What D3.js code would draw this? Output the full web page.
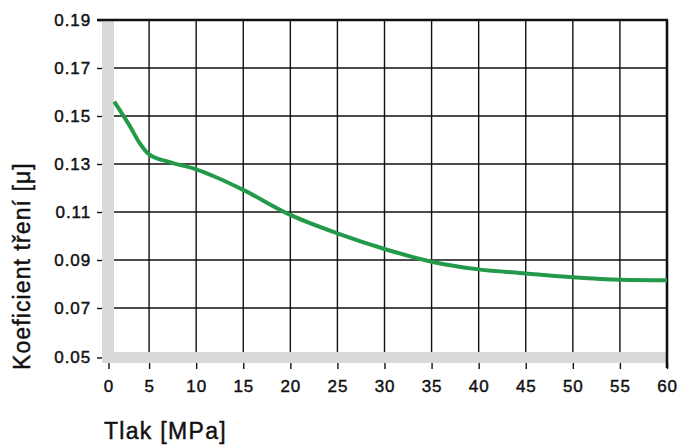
<!DOCTYPE html>
<html>
<head>
<meta charset="utf-8">
<script src="https://cdn.jsdelivr.net/npm/d3@7"></script>
<style>
  html, body { margin: 0; padding: 0; background: #fff; }
  svg { display: block; }
  text { font-family: "Liberation Sans", Arial, Helvetica, sans-serif; fill: #111; stroke: #111; stroke-width: 0.45px; }
</style>
</head>
<body>
<svg id="chart" width="680" height="446"></svg>
<script>
// ---- data ----
const pressure = [1.3, 3, 4, 5, 7, 10, 12, 15, 20, 25, 30, 35, 40, 45, 50, 55, 60];
const friction = [0.156, 0.1455, 0.1387, 0.134, 0.131, 0.1278, 0.1247, 0.1192, 0.1088, 0.1011, 0.0946, 0.0893, 0.0861, 0.0844, 0.0828, 0.0818, 0.0816];
const xTicks = [0, 5, 10, 15, 20, 25, 30, 35, 40, 45, 50, 55, 60];
const yTicks = [0.05, 0.07, 0.09, 0.11, 0.13, 0.15, 0.17, 0.19];
const xTitle = "Tlak [MPa]";
const yTitle = "Koeficient tření [μ]";

(function () {
const svg = d3.select("#chart");
const x = d3.scaleLinear().domain([0, 60]).range([102, 667]);
const y = d3.scaleLinear().domain([0.05, 0.19]).range([356, 20]);

const pLeft = 102, pRight = 667, pTop = 20, barW = 12, barBottom = 363;

// gray bars
svg.append("rect").attr("x", pLeft).attr("y", pTop).attr("width", barW).attr("height", barBottom - pTop).attr("fill", "#d9d9db");
svg.append("rect").attr("x", pLeft).attr("y", 352).attr("width", pRight - pLeft).attr("height", barBottom - 352).attr("fill", "#d9d9db");

// vertical gridlines
svg.append("g").selectAll("line").data(xTicks.filter(d => d > 0 && d < 60)).join("line")
  .attr("x1", d => x(d)).attr("x2", d => x(d))
  .attr("y1", pTop).attr("y2", 352)
  .attr("stroke", "#111").attr("stroke-width", 1.4);

// horizontal gridlines
svg.append("g").selectAll("line").data(yTicks.filter(d => d > 0.05 && d < 0.19)).join("line")
  .attr("x1", pLeft + barW).attr("x2", pRight)
  .attr("y1", d => y(d)).attr("y2", d => y(d))
  .attr("stroke", "#111").attr("stroke-width", 1.4);

// y axis
const yAxis = svg.append("g").attr("transform", `translate(${pLeft},0)`)
  .call(d3.axisLeft(y).tickValues(yTicks).tickSize(5).tickPadding(6).tickFormat(d3.format(".2f")));
yAxis.select(".domain").remove();
yAxis.selectAll("line").attr("stroke", "#111").attr("stroke-width", 1.4);
yAxis.selectAll("text").attr("font-size", 17).attr("letter-spacing", "0.9px").attr("fill", "#111")
  .style("font-family", "'Liberation Sans', Arial, sans-serif");
yAxis.selectAll(".tick").filter(d => d === 0.05).attr("transform", `translate(0,${y(0.05) + 2})`);

// x axis
const xAxis = svg.append("g").attr("transform", `translate(0,${barBottom})`)
  .call(d3.axisBottom(x).tickValues(xTicks).tickSize(6).tickPadding(11).tickFormat(d3.format("d")));
xAxis.select(".domain").remove();
xAxis.selectAll("line").attr("stroke", "#111").attr("stroke-width", 1.4);
xAxis.selectAll("text").attr("font-size", 17).attr("letter-spacing", "0.9px").attr("fill", "#111")
  .style("font-family", "'Liberation Sans', Arial, sans-serif");
xAxis.selectAll(".tick").filter(d => d === 0).attr("transform", `translate(${x(0) + 7},0)`);

// top and right borders
svg.append("line").attr("x1", 97).attr("x2", pRight + 1).attr("y1", pTop).attr("y2", pTop)
  .attr("stroke", "#111").attr("stroke-width", 2.6);
svg.append("line").attr("x1", pRight).attr("x2", pRight).attr("y1", pTop).attr("y2", 368)
  .attr("stroke", "#111").attr("stroke-width", 2.6);

// curve
const line = d3.line().x((d, i) => x(pressure[i])).y(d => y(d)).curve(d3.curveMonotoneX);
svg.append("path").datum(friction).attr("d", line)
  .attr("fill", "none").attr("stroke", "#23994a").attr("stroke-width", 4).attr("stroke-linecap", "butt");

// titles
svg.append("text").attr("x", 104).attr("y", 439).attr("font-size", 23).attr("letter-spacing", "1.3px").text(xTitle);
svg.append("text").attr("transform", "translate(30,370) rotate(-90)").attr("font-size", 23).attr("letter-spacing", "1.1px").text(yTitle);
})();
</script>
</body>
</html>
